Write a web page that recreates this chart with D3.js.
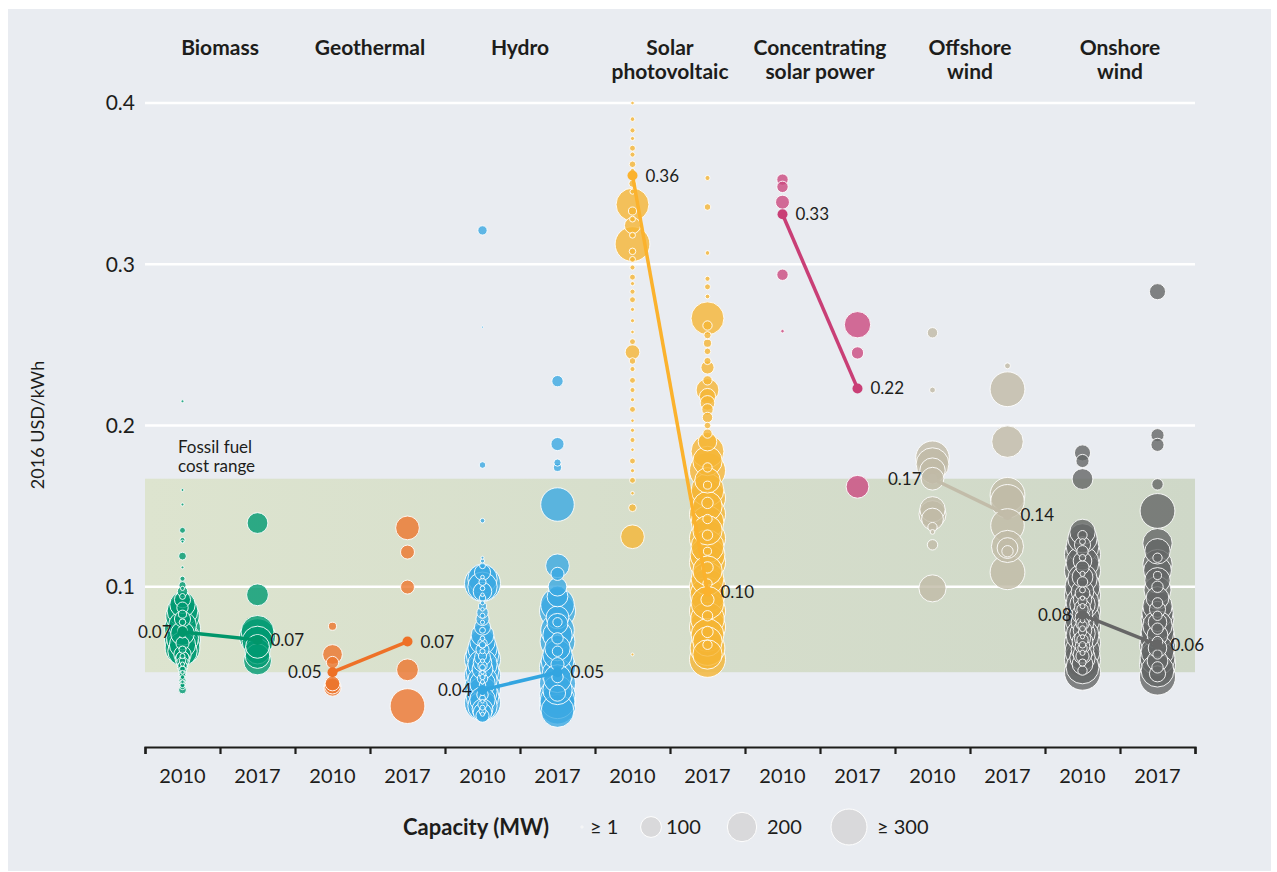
<!DOCTYPE html>
<html>
<head>
<meta charset="utf-8">
<script src="https://cdn.jsdelivr.net/npm/d3@7"></script>
<style>
  body { margin: 0; background: #fff; }
  text { font-family: Lato, "Open Sans", sans-serif; fill: #1d1d1b; }
</style>
</head>
<body>
<div id="container"></div>
<script>
/* DATA */
const techs = ["Biomass", "Geothermal", "Hydro", "Solar photovoltaic", "Concentrating solar power", "Offshore wind", "Onshore wind"];
const techTitles = [["Biomass"], ["Geothermal"], ["Hydro"], ["Solar", "photovoltaic"], ["Concentrating", "solar power"], ["Offshore", "wind"], ["Onshore", "wind"]];
const years = ["2010", "2017"];
const bubbleColors = ["#009a72", "#ec762d", "#3ba9e2", "#f5b534", "#ca4a7f", "#c1baa6", "#646666"];
const lineColors = ["#00966a", "#ee7127", "#33a5e0", "#fbb22d", "#c93f76", "#c2bca9", "#666666"];

// weighted averages (2016 USD/kWh)
const avg2010 = [0.072, 0.047, 0.036, 0.355, 0.331, 0.167, 0.0825];
const avg2017 = [0.067, 0.066, 0.047, 0.097, 0.223, 0.1445, 0.064];
const avgLabels2010 = ["0.07", "0.05", "0.04", "0.36", "0.33", "0.17", "0.08"];
const avgLabels2017 = ["0.07", "0.07", "0.05", "0.10", "0.22", "0.14", "0.06"];
const label2010Side = ["left", "left", "left", "right", "right", "left", "left"];

const yTicks = [0.1, 0.2, 0.3, 0.4];
const fossilRange = [0.047, 0.167];
const legendSizes = [1, 100, 200, 300];
const legendLabels = ["≥ 1", "100", "200", "≥ 300"];

// projects: [USD/kWh, MW]
const biomass2010 = [[0.215,2],[0.16,2],[0.151,2],[0.135,8],[0.129,6],[0.128,2],[0.119,14],[0.112,2],[0.105,6],[0.101,12],[0.099,4],[0.097,25],[0.094,8],[0.092,60],[0.089,150],[0.087,30],[0.085,220],[0.083,15],[0.082,260],[0.08,60],[0.078,10],[0.076,180],[0.074,300],[0.073,20],[0.071,130],[0.07,8],[0.068,240],[0.067,300],[0.065,40],[0.064,160],[0.062,280],[0.061,12],[0.06,200],[0.058,70],[0.057,6],[0.056,40],[0.055,50],[0.054,10],[0.053,30],[0.052,4],[0.051,20],[0.05,25],[0.049,8],[0.048,15],[0.047,3],[0.046,12],[0.045,10],[0.044,5],[0.043,8],[0.042,12],[0.041,3],[0.04,10],[0.039,6],[0.038,8],[0.036,14]];
const biomass2017 = [[0.1395,100],[0.095,110],[0.072,250],[0.069,300],[0.066,220],[0.063,130],[0.06,150],[0.057,140],[0.054,180]];
const geothermal2010 = [[0.0755,15],[0.058,90],[0.053,35],[0.04,50],[0.0385,60],[0.0375,70]];
const geothermal2017 = [[0.1365,130],[0.1215,45],[0.0998,45],[0.0485,110],[0.026,280]];
const hydro2010 = [[0.321,20],[0.261,1],[0.1755,10],[0.141,5],[0.118,2],[0.116,4],[0.113,8],[0.109,60],[0.106,3],[0.105,200],[0.103,12],[0.102,300],[0.1,200],[0.099,5],[0.097,80],[0.095,3],[0.093,10],[0.09,4],[0.088,15],[0.086,3],[0.084,30],[0.082,6],[0.08,40],[0.078,4],[0.075,60],[0.073,8],[0.07,120],[0.068,5],[0.066,150],[0.065,20],[0.064,10],[0.062,200],[0.061,40],[0.06,6],[0.058,250],[0.057,15],[0.056,60],[0.055,300],[0.054,4],[0.053,80],[0.052,200],[0.051,20],[0.05,8],[0.049,100],[0.048,250],[0.047,3],[0.046,12],[0.045,300],[0.044,6],[0.043,25],[0.042,200],[0.041,4],[0.04,150],[0.039,10],[0.038,3],[0.037,300],[0.036,15],[0.035,200],[0.034,5],[0.033,30],[0.032,250],[0.031,8],[0.03,150],[0.029,3],[0.028,300],[0.027,20],[0.026,200],[0.025,6],[0.024,100],[0.023,12],[0.022,80],[0.021,4],[0.02,40]];
const hydro2017 = [[0.2275,30],[0.1885,40],[0.177,12],[0.174,15],[0.151,260],[0.113,130],[0.108,40],[0.1,80],[0.094,100],[0.089,260],[0.085,300],[0.081,120],[0.078,20],[0.077,100],[0.073,260],[0.07,200],[0.068,30],[0.066,280],[0.062,150],[0.06,25],[0.058,200],[0.054,250],[0.052,40],[0.05,300],[0.046,220],[0.044,30],[0.043,180],[0.04,300],[0.036,200],[0.034,60],[0.032,300],[0.029,280],[0.026,300],[0.023,250]];
const pv2010 = [[0.4,3],[0.39,5],[0.383,6],[0.378,4],[0.372,8],[0.368,6],[0.362,10],[0.358,5],[0.35,12],[0.345,6],[0.337,250],[0.333,15],[0.328,8],[0.324,60],[0.318,8],[0.3125,280],[0.308,10],[0.303,8],[0.298,6],[0.292,8],[0.288,4],[0.283,6],[0.278,8],[0.272,4],[0.265,4],[0.258,3],[0.252,8],[0.2455,50],[0.24,10],[0.235,6],[0.228,8],[0.222,6],[0.216,4],[0.21,8],[0.203,3],[0.197,4],[0.191,6],[0.185,3],[0.178,8],[0.172,4],[0.166,8],[0.158,3],[0.149,14],[0.131,130],[0.058,2]];
const pv2017 = [[0.3535,6],[0.3355,10],[0.307,5],[0.291,6],[0.286,8],[0.28,5],[0.2665,250],[0.262,20],[0.256,12],[0.251,15],[0.246,10],[0.24,12],[0.236,40],[0.228,20],[0.222,120],[0.218,60],[0.214,50],[0.21,30],[0.205,25],[0.2,10],[0.195,20],[0.19,80],[0.184,250],[0.178,200],[0.174,20],[0.172,300],[0.166,150],[0.163,15],[0.16,250],[0.155,300],[0.152,30],[0.15,200],[0.145,300],[0.142,20],[0.14,250],[0.135,200],[0.132,25],[0.13,300],[0.125,250],[0.122,15],[0.12,280],[0.115,300],[0.112,30],[0.11,200],[0.105,250],[0.102,20],[0.1,300],[0.095,280],[0.092,40],[0.09,250],[0.085,300],[0.082,25],[0.08,260],[0.075,300],[0.072,30],[0.07,250],[0.066,200],[0.064,20],[0.062,280],[0.058,200],[0.055,300]];
const csp2010 = [[0.3525,30],[0.348,30],[0.3385,45],[0.2935,30],[0.2585,3]];
const csp2017 = [[0.2625,160],[0.245,35],[0.162,120]];
const offshore2010 = [[0.2575,25],[0.222,8],[0.18,260],[0.176,250],[0.172,150],[0.167,120],[0.148,150],[0.145,170],[0.142,110],[0.137,20],[0.134,5],[0.126,25],[0.099,170]];
const offshore2017 = [[0.237,8],[0.2225,280],[0.19,230],[0.157,280],[0.153,260],[0.138,260],[0.125,240],[0.124,100],[0.122,30],[0.109,280]];
const onshore2010 = [[0.183,60],[0.178,40],[0.1668,100],[0.134,150],[0.132,20],[0.13,200],[0.128,8],[0.126,60],[0.125,250],[0.122,30],[0.12,300],[0.118,10],[0.116,80],[0.115,250],[0.112,40],[0.11,300],[0.108,6],[0.106,100],[0.105,200],[0.103,25],[0.1,280],[0.098,8],[0.097,120],[0.096,50],[0.095,300],[0.093,4],[0.092,80],[0.091,20],[0.09,250],[0.089,150],[0.088,6],[0.087,60],[0.086,30],[0.085,300],[0.084,3],[0.083,100],[0.082,12],[0.081,50],[0.08,280],[0.079,5],[0.078,120],[0.077,40],[0.076,20],[0.075,300],[0.074,8],[0.073,80],[0.072,15],[0.071,150],[0.07,250],[0.069,4],[0.068,60],[0.067,30],[0.066,100],[0.065,300],[0.064,10],[0.063,50],[0.062,20],[0.061,120],[0.06,280],[0.059,6],[0.058,80],[0.057,40],[0.056,150],[0.055,300],[0.053,12],[0.052,100],[0.05,250],[0.048,20],[0.047,300]];
const onshore2017 = [[0.283,60],[0.194,40],[0.188,40],[0.1635,30],[0.147,280],[0.127,200],[0.122,150],[0.118,20],[0.114,200],[0.11,180],[0.107,15],[0.104,150],[0.1,30],[0.098,170],[0.093,120],[0.09,25],[0.088,200],[0.086,60],[0.084,230],[0.082,20],[0.08,250],[0.078,80],[0.076,200],[0.074,30],[0.072,250],[0.07,100],[0.068,280],[0.066,25],[0.064,300],[0.062,80],[0.06,250],[0.058,20],[0.056,280],[0.054,100],[0.052,300],[0.05,30],[0.048,250],[0.046,60],[0.044,300]];

const projects = [
  [biomass2010, biomass2017], [geothermal2010, geothermal2017], [hydro2010, hydro2017],
  [pv2010, pv2017], [csp2010, csp2017], [offshore2010, offshore2017], [onshore2010, onshore2017]
];

/* CONSTANTS */
const width = 1277, height = 872;
const plot = { left: 145, right: 1195, top: 103, bottom: 748 };

/* SCALES */
const columns = techs.flatMap(t => years.map(yr => t + "|" + yr));
const x = d3.scaleBand().domain(columns).range([plot.left, plot.right]);
const xTech = d3.scaleBand().domain(techs).range([plot.left, plot.right]);
const edge = d3.scaleLinear().domain([0, columns.length]).range([plot.left, plot.right]);
const y = d3.scaleLinear().domain([0, 0.4]).range([plot.bottom, plot.top]);
const r = d3.scaleSqrt().domain([0, 300]).range([0, 18]).clamp(true);
const cx = (ti, yi) => x(techs[ti] + "|" + years[yi]) + x.bandwidth() / 2;

/* SVG */
const svg = d3.select("#container").append("svg")
  .attr("width", width).attr("height", height);

svg.append("rect").attr("x", 8).attr("y", 9).attr("width", 1263).attr("height", 862).attr("fill", "#e9ecf1");

const grad = svg.append("defs").append("linearGradient").attr("id", "fossil");
grad.append("stop").attr("offset", "0%").attr("stop-color", "#dde4cf");
grad.append("stop").attr("offset", "100%").attr("stop-color", "#cfd8c8");

svg.append("rect")
  .attr("x", plot.left).attr("width", plot.right - plot.left)
  .attr("y", y(fossilRange[1])).attr("height", y(fossilRange[0]) - y(fossilRange[1]))
  .attr("fill", "url(#fossil)");

// gridlines
svg.append("g").selectAll("line").data(yTicks).join("line")
  .attr("x1", plot.left).attr("x2", plot.right)
  .attr("y1", d => y(d)).attr("y2", d => y(d))
  .attr("stroke", "#fff").attr("stroke-width", 2.5);

svg.append("g").selectAll("text").data(yTicks).join("text")
  .attr("x", 135).attr("y", d => y(d)).attr("dy", "0.35em")
  .attr("text-anchor", "end").attr("font-size", 21)
  .text(d => d.toFixed(1));

svg.append("text")
  .attr("transform", `translate(38,425) rotate(-90)`)
  .attr("text-anchor", "middle").attr("dy", "0.35em")
  .attr("font-size", 18)
  .text("2016 USD/kWh");

svg.append("text").attr("x", 178).attr("y", 453).attr("font-size", 17).text("Fossil fuel");
svg.append("text").attr("x", 178).attr("y", 472).attr("font-size", 17).text("cost range");

// tech titles
techs.forEach((t, i) => {
  svg.append("text")
    .attr("x", xTech(t) + xTech.bandwidth() / 2).attr("y", 55)
    .attr("text-anchor", "middle").attr("font-size", 21).attr("font-weight", 700)
    .selectAll("tspan").data(techTitles[i]).join("tspan")
    .attr("x", xTech(t) + xTech.bandwidth() / 2)
    .attr("dy", (d, j) => j ? 24 : 0)
    .text(d => d);
});

// bubbles
const bubbles = svg.append("g");
projects.forEach((pair, ti) => {
  pair.forEach((list, yi) => {
    const sorted = list.slice().sort((a, b) => b[1] - a[1]);
    bubbles.append("g").selectAll("circle").data(sorted).join("circle")
      .attr("cx", cx(ti, yi))
      .attr("cy", d => y(d[0]))
      .attr("r", d => r(d[1]))
      .attr("fill", bubbleColors[ti]).attr("fill-opacity", 0.8)
      .attr("stroke", "#fff").attr("stroke-width", 0.9);
  });
});

// weighted average lines
const avgs = techs.map((t, i) => ({ i, a: avg2010[i], b: avg2017[i] }));
svg.append("g").selectAll("line").data(avgs).join("line")
  .attr("x1", d => cx(d.i, 0)).attr("x2", d => cx(d.i, 1))
  .attr("y1", d => y(d.a)).attr("y2", d => y(d.b))
  .attr("stroke", d => lineColors[d.i]).attr("stroke-width", 3.5);
svg.append("g").selectAll("circle").data(avgs.flatMap(d => [[d.i, 0, d.a], [d.i, 1, d.b]])).join("circle")
  .attr("cx", d => cx(d[0], d[1])).attr("cy", d => y(d[2])).attr("r", 5)
  .attr("fill", d => lineColors[d[0]]);

const labels = svg.append("g").attr("font-size", 17);
avgs.forEach(d => {
  const left = label2010Side[d.i] === "left";
  labels.append("text")
    .attr("x", cx(d.i, 0) + (left ? -11 : 13)).attr("y", y(d.a)).attr("dy", "0.35em")
    .attr("text-anchor", left ? "end" : "start")
    .text(avgLabels2010[d.i]);
  labels.append("text")
    .attr("x", cx(d.i, 1) + 13).attr("y", y(d.b)).attr("dy", "0.35em")
    .text(avgLabels2017[d.i]);
});

// x axis
svg.append("g")
  .attr("transform", `translate(0,${plot.bottom - 1})`)
  .call(d3.axisBottom(edge).tickValues(d3.range(columns.length + 1)).tickSize(7).tickFormat(""))
  .call(g => g.selectAll("path, line").attr("stroke", "#1d1d1b").attr("stroke-width", 2.2));

svg.append("g")
  .attr("transform", `translate(0,${plot.bottom})`)
  .call(d3.axisBottom(x).tickSize(0).tickPadding(21).tickFormat(d => d.split("|")[1]))
  .call(g => g.select(".domain").remove())
  .call(g => g.selectAll("text").attr("font-size", 20).attr("font-family", "Lato, sans-serif").attr("fill", "#1d1d1b"));

// legend
const legend = svg.append("g");
legend.append("text").attr("x", 403).attr("y", 827).attr("dy", "0.35em")
  .attr("font-size", 22).attr("font-weight", 700)
  .text("Capacity (MW)");
const legendX = [582, 651, 742, 849];
const legendTextX = [590, 666, 767, 877];
legend.selectAll("circle").data(legendSizes).join("circle")
  .attr("cx", (d, i) => legendX[i]).attr("cy", 827).attr("r", d => r(d))
  .attr("fill", "#d9d9db").attr("stroke", "#fff").attr("stroke-width", 1);
legend.selectAll("text.lab").data(legendLabels).join("text").attr("class", "lab")
  .attr("x", (d, i) => legendTextX[i]).attr("y", 827).attr("dy", "0.35em")
  .attr("font-size", 20)
  .text(d => d);
</script>
</body>
</html>
